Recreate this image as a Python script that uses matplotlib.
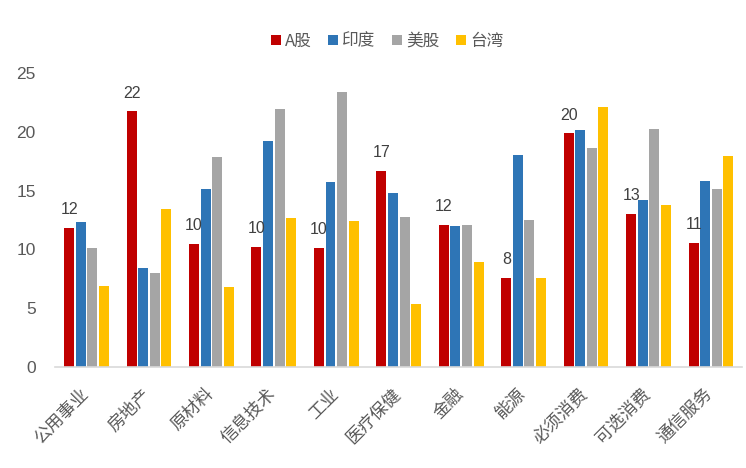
import numpy as np
import matplotlib
matplotlib.use('Agg')
import matplotlib.pyplot as plt
import matplotlib.transforms as mtransforms

plt.rcParams['font.family'] = ['Noto Sans CJK SC', 'DejaVu Sans']

categories = ['公用事业', '房地产', '原材料', '信息技术', '工业', '医疗保健',
              '金融', '能源', '必须消费', '可选消费', '通信服务']
a_shares = [11.85, 21.73, 10.45, 10.23, 10.11, 16.68, 12.07, 7.56, 19.89, 13.01, 10.57]
india = [12.33, 8.38, 15.17, 19.2, 15.74, 14.83, 11.96, 18.04, 20.11, 14.23, 15.85]
us = [10.11, 8.01, 17.84, 21.96, 23.35, 12.76, 12.07, 12.53, 18.64, 20.26, 15.14]
taiwan = [6.88, 13.44, 6.76, 12.67, 12.41, 5.34, 8.95, 7.56, 22.07, 13.78, 17.93]

series_names = ['A股', '印度', '美股', '台湾']
colors = ['#C00000', '#2E75B6', '#A5A5A5', '#FFC000']

fig = plt.figure(figsize=(7.46, 4.68), dpi=100)
ax = fig.add_axes([0.074, 0.216, 0.921, 0.628])

x = np.arange(len(categories))
step = 0.185
width = 0.16
all_series = [a_shares, india, us, taiwan]
for i, (vals, name, c) in enumerate(zip(all_series, series_names, colors)):
    ax.bar(x + (i - 1.5) * step, vals, width, color=c, label=name, zorder=2)

# labels on A股 bars
for xi, v in zip(x, a_shares):
    ax.text(xi - 1.5 * step, v + 0.9, f'{round(v):.0f}', ha='center', va='bottom',
            fontsize=11.5, color='#404040', family='Liberation Sans')

ax.set_xlim(-0.5, len(categories) - 0.5)
ax.set_ylim(0, 25)
ax.set_yticks([0, 5, 10, 15, 20, 25])
ax.tick_params(axis='y', length=0, labelsize=12.5, labelcolor='#595959', pad=14)
ax.tick_params(axis='x', length=0, pad=13)
for lbl in ax.get_yticklabels():
    lbl.set_family('Liberation Sans')
ax.set_xticks(x)
ax.set_xticklabels(categories, rotation=45, ha='right', rotation_mode='anchor',
                   fontsize=12.5, color='#595959')
shift = mtransforms.ScaledTranslation(-0.07, 0, fig.dpi_scale_trans)
for lbl in ax.get_xticklabels():
    lbl.set_transform(lbl.get_transform() + shift)
for s in ['top', 'right', 'left']:
    ax.spines[s].set_visible(False)
ax.spines['bottom'].set_color('#D9D9D9')
ax.spines['bottom'].set_linewidth(1.2)

fig.legend(loc='center', bbox_to_anchor=(0.519, 0.912), ncol=4, frameon=False,
           fontsize=12, handlelength=0.6, handleheight=0.6, handletextpad=0.25,
           columnspacing=1.0, labelcolor='#595959')

fig.savefig('out.png', dpi=100)
